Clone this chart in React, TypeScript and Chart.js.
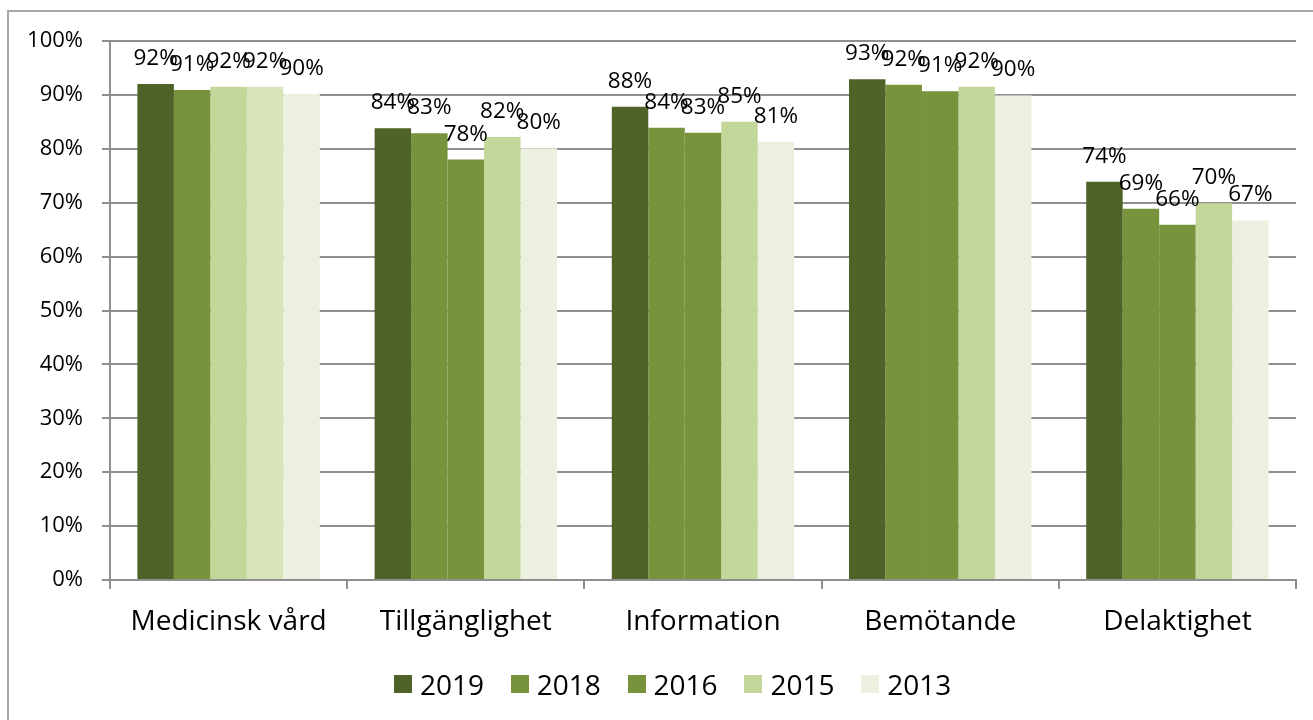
import React, { useEffect, useRef } from "react";
import { Chart, registerables } from "chart.js";

Chart.register(...registerables);

const categories = ["Medicinsk vård", "Tillgänglighet", "Information", "Bemötande", "Delaktighet"];
const seriesNames = ["2019", "2018", "2016", "2015", "2013"];
const values2019 = [92, 83.8, 87.8, 92.9, 73.9];
const values2018 = [90.9, 82.9, 83.9, 91.9, 68.9];
const values2016 = [91.5, 78.0, 83.0, 90.7, 65.9];
const values2015 = [91.5, 82.2, 85.0, 91.5, 69.9];
const values2013 = [90.2, 80.1, 81.3, 89.9, 66.7];
const yTicks = [0, 10, 20, 30, 40, 50, 60, 70, 80, 90, 100];

const C_DARK = "#4F6228";
const C_MID = "#77933C";
const C_LIGHT = "#C4D79B";
const C_LIGHTER = "#D8E4BC";
const C_PALE = "#EBF1DE";

const colors2019 = [C_DARK, C_DARK, C_DARK, C_DARK, C_DARK];
const colors2018 = [C_MID, C_MID, C_MID, C_MID, C_MID];
const colors2016 = [C_LIGHT, C_MID, C_MID, C_MID, C_MID];
const colors2015 = [C_LIGHTER, C_LIGHT, C_LIGHT, C_LIGHT, C_LIGHT];
const colors2013 = [C_PALE, C_PALE, C_PALE, C_PALE, C_PALE];
const legendColors = [C_DARK, C_MID, C_MID, C_LIGHT, C_PALE];

const FONT = "'Open Sans', 'Noto Sans', sans-serif";

const dataLabelPlugin = {
  id: "dataLabels",
  afterDatasetsDraw(chart: any) {
    const ctx = chart.ctx;
    ctx.save();
    ctx.font = `22.5px ${FONT}`;
    ctx.fillStyle = "#000";
    ctx.textAlign = "center";
    ctx.textBaseline = "alphabetic";
    chart.data.datasets.forEach((ds: any, di: number) => {
      const meta = chart.getDatasetMeta(di);
      meta.data.forEach((el: any, i: number) => {
        const v = ds.data[i];
        ctx.fillText(Math.round(v) + "%", el.x, el.y - 19);
      });
    });
    ctx.restore();
  },
};

export default function App() {
  const canvasRef = useRef<HTMLCanvasElement | null>(null);

  useEffect(() => {
    if (!canvasRef.current) return;
    const all = [values2019, values2018, values2016, values2015, values2013];
    const cols = [colors2019, colors2018, colors2016, colors2015, colors2013];
    const chart = new Chart(canvasRef.current, {
      type: "bar",
      data: {
        labels: categories,
        datasets: seriesNames.map((name, i) => ({
          label: name,
          data: all[i],
          backgroundColor: cols[i],
          borderWidth: 0,
          categoryPercentage: 0.769,
          barPercentage: 1,
        })),
      },
      options: {
        responsive: false,
        animation: false,
        layout: { padding: { left: 0, right: 17, top: 41, bottom: 0 } },
        plugins: {
          legend: { display: false },
          tooltip: { enabled: false },
        },
        scales: {
          x: {
            grid: {
              drawOnChartArea: false,
              drawTicks: true,
              tickLength: 9,
              color: "#8f8f8f",
              lineWidth: 2,
              offset: true,
            },
            border: { color: "#8f8f8f", width: 2 },
            ticks: {
              color: "#000",
              font: { family: FONT, size: 28 },
              padding: 16,
              maxRotation: 0,
            },
            afterFit: (scale: any) => {
              scale.height = 140;
            },
          },
          y: {
            min: 0,
            max: 100,
            afterBuildTicks: (scale: any) => {
              scale.ticks = yTicks.map((v) => ({ value: v }));
            },
            grid: {
              color: "#8f8f8f",
              lineWidth: 2,
              drawTicks: true,
              tickLength: 8,
            },
            border: { color: "#8f8f8f", width: 2 },
            ticks: {
              color: "#000",
              font: { family: FONT, size: 22 },
              padding: 19,
              callback: (v: any) => v + "%",
            },
            afterFit: (scale: any) => {
              scale.width = 110;
            },
          },
        },
      },
      plugins: [dataLabelPlugin],
    });
    return () => chart.destroy();
  }, []);

  return (
    <div
      style={{
        position: "fixed",
        left: 0,
        top: 0,
        width: 1313,
        height: 720,
        overflow: "hidden",
        background: "#fff",
      }}
    >
      <div
        style={{
          position: "absolute",
          left: 7,
          top: 10,
          width: 1400,
          height: 800,
          border: "2px solid #a6a6a6",
        }}
      />
      <canvas
        ref={canvasRef}
        width={1313}
        height={720}
        style={{ position: "absolute", left: 0, top: 0, width: 1313, height: 720 }}
      />
      <div
        style={{
          position: "absolute",
          left: 394,
          top: 665,
          display: "flex",
          alignItems: "center",
          fontFamily: FONT,
          fontSize: 28,
          color: "#000",
          height: 38,
        }}
      >
        {seriesNames.map((name, i) => (
          <div
            key={name}
            style={{ display: "flex", alignItems: "center", width: 116.8, flex: "0 0 auto" }}
          >
            <span
              style={{
                display: "inline-block",
                width: 18,
                height: 18,
                background: legendColors[i],
                marginRight: 8,
              }}
            />
            <span style={{ lineHeight: "38px" }}>{name}</span>
          </div>
        ))}
      </div>
    </div>
  );
}
